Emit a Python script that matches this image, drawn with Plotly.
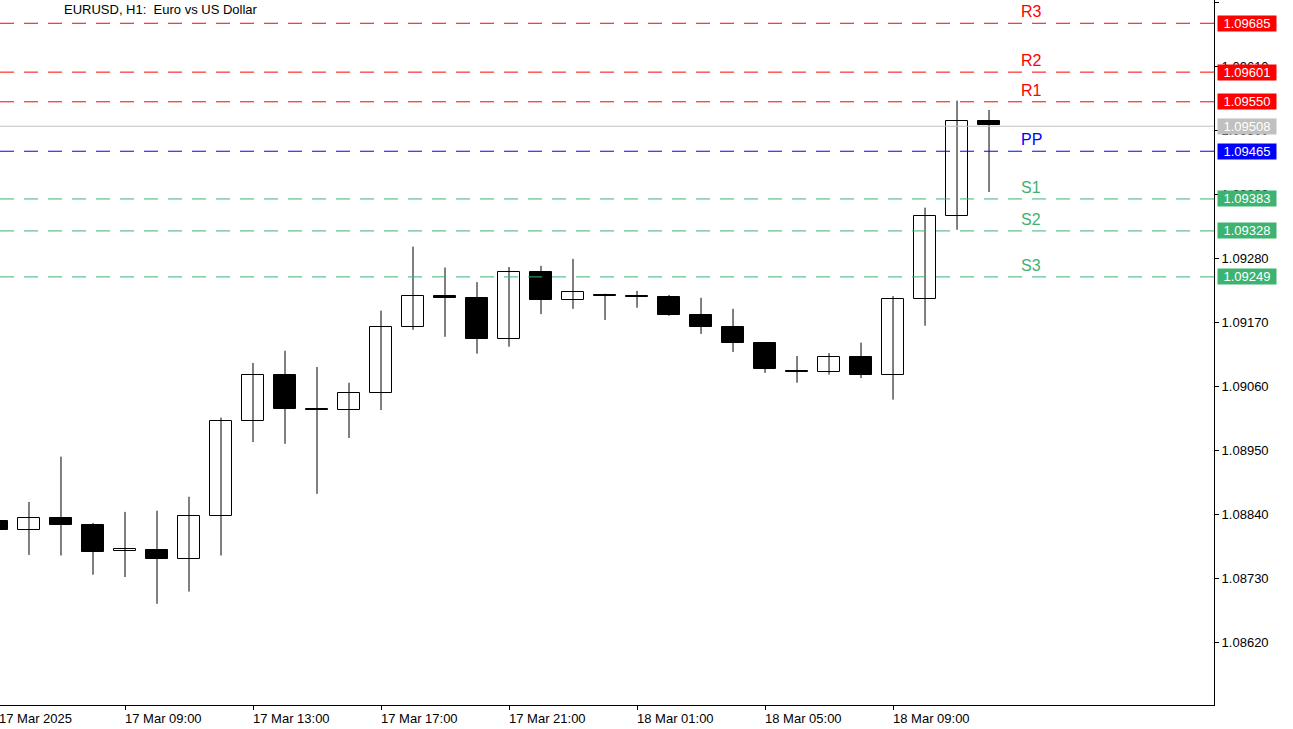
import plotly.graph_objects as go

# ── Data (EURUSD H1, 17 Mar 05:00 → 18 Mar 12:00) ────────────────────────────
HOURS = ["17 Mar 05:00", "17 Mar 06:00", "17 Mar 07:00", "17 Mar 08:00", "17 Mar 09:00",
         "17 Mar 10:00", "17 Mar 11:00", "17 Mar 12:00", "17 Mar 13:00", "17 Mar 14:00",
         "17 Mar 15:00", "17 Mar 16:00", "17 Mar 17:00", "17 Mar 18:00", "17 Mar 19:00",
         "17 Mar 20:00", "17 Mar 21:00", "17 Mar 22:00", "17 Mar 23:00", "18 Mar 00:00",
         "18 Mar 01:00", "18 Mar 02:00", "18 Mar 03:00", "18 Mar 04:00", "18 Mar 05:00",
         "18 Mar 06:00", "18 Mar 07:00", "18 Mar 08:00", "18 Mar 09:00", "18 Mar 10:00",
         "18 Mar 11:00", "18 Mar 12:00"]
OPEN  = [1.08830, 1.08814, 1.08835, 1.08823, 1.08778, 1.08780, 1.08764, 1.08838,
         1.09002, 1.09081, 1.09022, 1.09020, 1.09050, 1.09163, 1.09216, 1.09213,
         1.09143, 1.09258, 1.09210, 1.09218, 1.09216, 1.09215, 1.09184, 1.09163,
         1.09136, 1.09088, 1.09086, 1.09112, 1.09081, 1.09211, 1.09354, 1.09517]
HIGH  = [1.08831, 1.08862, 1.08940, 1.08826, 1.08845, 1.08847, 1.08871, 1.09007,
         1.09101, 1.09122, 1.09094, 1.09067, 1.09191, 1.09301, 1.09265, 1.09240,
         1.09266, 1.09268, 1.09280, 1.09220, 1.09225, 1.09218, 1.09213, 1.09194,
         1.09136, 1.09113, 1.09118, 1.09136, 1.09216, 1.09368, 1.09552, 1.09536]
LOW   = [1.08813, 1.08771, 1.08770, 1.08737, 1.08733, 1.08687, 1.08708, 1.08770,
         1.08965, 1.08962, 1.08876, 1.08972, 1.09020, 1.09158, 1.09146, 1.09117,
         1.09129, 1.09185, 1.09194, 1.09175, 1.09196, 1.09182, 1.09151, 1.09120,
         1.09084, 1.09067, 1.09081, 1.09075, 1.09038, 1.09165, 1.09330, 1.09395]
CLOSE = [1.08814, 1.08835, 1.08823, 1.08776, 1.08782, 1.08764, 1.08838, 1.09002,
         1.09081, 1.09022, 1.09020, 1.09050, 1.09163, 1.09216, 1.09213, 1.09143,
         1.09258, 1.09210, 1.09223, 1.09216, 1.09215, 1.09184, 1.09163, 1.09136,
         1.09091, 1.09086, 1.09112, 1.09081, 1.09211, 1.09354, 1.09517, 1.09510]

LEVEL_NAMES  = ["R3", "R2", "R1", "PP", "S1", "S2", "S3"]
LEVEL_VALUES = [1.09685, 1.09601, 1.09550, 1.09465, 1.09383, 1.09328, 1.09249]
LEVEL_COLORS = ["#ff0000", "#ff0000", "#ff0000", "#0000ff", "#3cb371", "#3cb371", "#3cb371"]
CURRENT_PRICE = 1.09508

Y_TICKS = [1.08620, 1.08730, 1.08840, 1.08950, 1.09060, 1.09170, 1.09280,
           1.09390, 1.09500, 1.09610, 1.09720]
X_TICK_POS = [0, 4, 8, 12, 16, 20, 24, 28]
X_TICK_TEXT = ["17 Mar 2025", "17 Mar 09:00", "17 Mar 13:00", "17 Mar 17:00",
               "17 Mar 21:00", "18 Mar 01:00", "18 Mar 05:00", "18 Mar 09:00"]

# ── Figure ────────────────────────────────────────────────────────────────────
x = list(range(len(HOURS)))
fig = go.Figure()

# wicks
wx, wy = [], []
for i in x:
    wx += [i, i, None]
    wy += [LOW[i], HIGH[i], None]
fig.add_trace(go.Scatter(x=wx, y=wy, mode="lines", line=dict(color="black", width=1),
                         hoverinfo="skip", showlegend=False))

# bodies
base = [min(o, c) for o, c in zip(OPEN, CLOSE)]
height = [max(abs(c - o), 0.000005) for o, c in zip(OPEN, CLOSE)]
colors = ["white" if c > o else "black" for o, c in zip(OPEN, CLOSE)]
fig.add_trace(go.Bar(x=x, y=height, base=base, width=0.68, marker_color=colors,
                     marker_line=dict(color="black", width=1), customdata=HOURS,
                     hovertemplate="%{customdata}<extra></extra>", showlegend=False))

# pivot levels
def price_tag(val, col):
    fig.add_annotation(xref="paper", x=1.0, y=val, text=f"{val:.5f}", showarrow=False,
                       xanchor="left", xshift=3, bgcolor=col, width=58, height=15,
                       font=dict(color="white", size=13), borderpad=0)

for name, val, col in zip(LEVEL_NAMES, LEVEL_VALUES, LEVEL_COLORS):
    fig.add_hline(y=val, line=dict(color=col, width=1, dash="14px,10px"))
    fig.add_annotation(x=31.95, y=val, text=name, showarrow=False, xanchor="left",
                       yanchor="bottom", yshift=1, font=dict(color=col, size=16))
    price_tag(val, col)

fig.add_hline(y=CURRENT_PRICE, line=dict(color="#c0c0c0", width=1))
price_tag(CURRENT_PRICE, "#c0c0c0")

# x tick labels, left-aligned at tick like the terminal
for pos, txt in zip(X_TICK_POS, X_TICK_TEXT):
    if pos == 0:  # first tick sits just left of the visible range
        fig.add_annotation(xref="paper", x=0, yref="paper", y=0, text=txt,
                           showarrow=False, xanchor="left", yanchor="top",
                           xshift=-3, yshift=-4, font=dict(size=13))
        continue
    fig.add_annotation(x=pos, yref="paper", y=0, text=txt, showarrow=False,
                       xanchor="left", yanchor="top", xshift=-2, yshift=-4,
                       font=dict(size=13))

fig.add_annotation(xref="paper", yref="paper", x=0.0, y=1.0, xshift=62, yshift=0,
                   text="EURUSD, H1:  Euro vs US Dollar", showarrow=False,
                   xanchor="left", yanchor="top", font=dict(size=13, color="black"))

fig.update_layout(
    width=1293, height=729,
    margin=dict(l=0, r=79, t=0, b=24),
    plot_bgcolor="white", paper_bgcolor="white",
    font=dict(family="Liberation Sans, Arial, sans-serif", color="black", size=13),
    showlegend=False, bargap=0,
    xaxis=dict(range=[0.094, 38.03], tickvals=X_TICK_POS, showticklabels=False,
               showgrid=False, zeroline=False, showline=True, linecolor="black",
               ticks="outside", ticklen=4, tickcolor="black", fixedrange=True,
               automargin=False),
    yaxis=dict(range=[1.08513, 1.09725], side="right", tickvals=Y_TICKS,
               tickformat=".5f", showgrid=False, zeroline=False, showline=True,
               linecolor="black", ticks="outside", ticklen=4, tickcolor="black",
               automargin=False),
)

fig.write_html("out.html", config={"displayModeBar": False},
               post_script="document.body.style.margin='0';document.body.style.overflow='hidden';")
